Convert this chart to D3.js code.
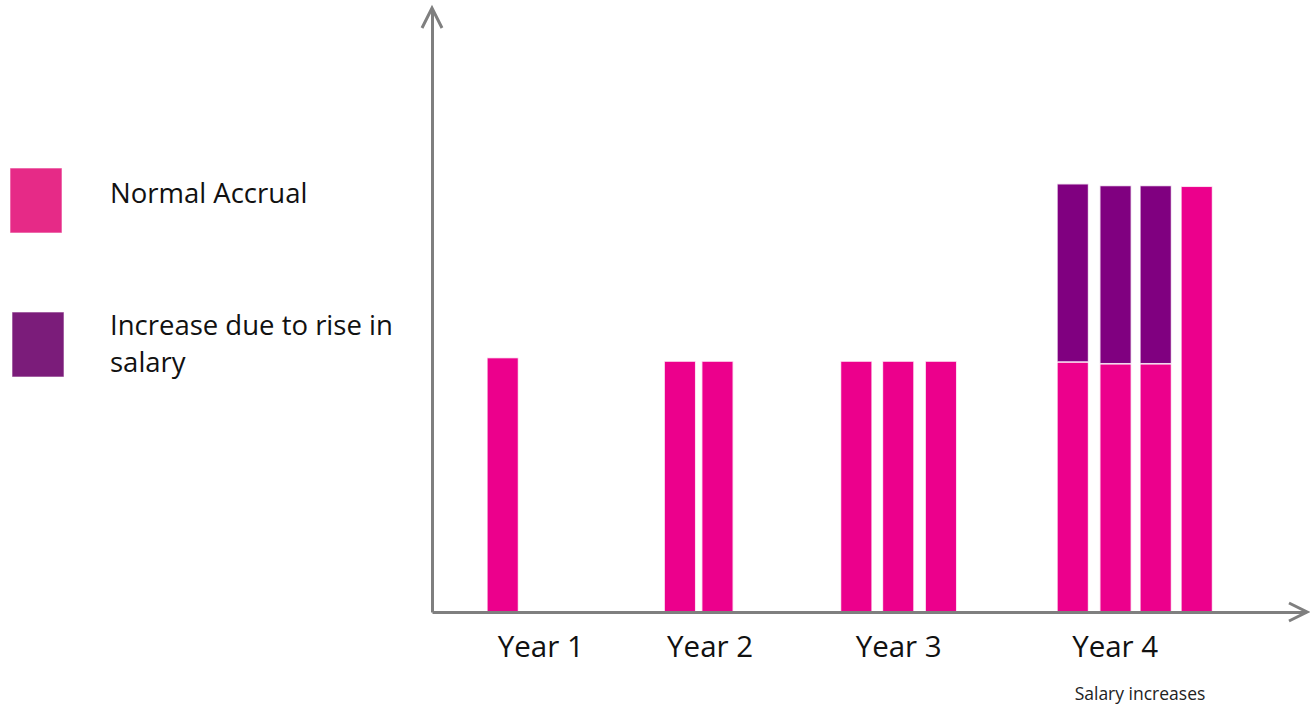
<!DOCTYPE html>
<html lang="en">
<head>
    <meta charset="UTF-8">
    <title>Accrual</title>
    <script src="https://d3js.org/d3.v7.min.js"></script>
    <style>
        body { margin: 0; background: #fff; }
        text { font-family: "Open Sans", sans-serif; }
    </style>
</head>
<body>
<script>
    // data
    var years = ["Year 1", "Year 2", "Year 3", "Year 4"];
    var yearLabelPos = [12.4, 31.8, 53.4, 78.2];
    var barPos = [6.3, 26.6, 30.9, 46.8, 51.6, 56.5, 71.6, 76.5, 81.1, 85.8];
    var normalAccrual = [1.014, 1.0, 1.0, 1.0, 1.0, 1.0, 0.997, 0.99, 0.99, 1.697];
    var salaryIncrease = [0, 0, 0, 0, 0, 0, 0.71, 0.71, 0.71, 0];
    var legendLabels = [["Normal Accrual"], ["Increase due to rise in", "salary"]];
    var note = {text: "Salary increases", pos: 81.1};

    var width = 1310, height = 706;
    var barW = 3.6;
    var barColor = {normal: "#ec008c", increase: "#800080"};
    var legendColor = ["#e62a87", "#7b1c7a"];

    var svg = d3.select("body").append("svg")
        .attr("width", width)
        .attr("height", height);

    var x = d3.scaleLinear().domain([0, 100]).range([432, 1305]);
    var y = d3.scaleLinear().domain([0, 2.4]).range([612, 10]);

    var rows = barPos.map(function (p, i) {
        return {pos: p, normal: normalAccrual[i], increase: salaryIncrease[i]};
    });
    var stacked = d3.stack().keys(["normal", "increase"])(rows);

    svg.append("g").selectAll("g")
        .data(stacked)
        .enter().append("g")
        .attr("fill", function (d) { return barColor[d.key]; })
        .selectAll("rect")
        .data(function (d) { return d.filter(function (s) { return s[1] - s[0] > 0; }); })
        .enter().append("rect")
        .attr("x", function (d) { return x(d.data.pos); })
        .attr("width", function (d) { return x(d.data.pos + barW) - x(d.data.pos); })
        .attr("y", function (d) { return y(d[1]); })
        .attr("height", function (d) { return y(d[0]) - y(d[1]); })
        .attr("stroke", "#fff")
        .attr("stroke-opacity", 0.8)
        .attr("stroke-width", 1.4);

    // axes
    var xAxis = svg.append("g")
        .attr("transform", "translate(0," + y(0) + ")")
        .call(d3.axisBottom(x)
            .tickValues(yearLabelPos)
            .tickFormat(function (d, i) { return years[i]; })
            .tickSize(0)
            .tickPadding(24));
    xAxis.selectAll("text")
        .attr("font-family", "Open Sans, sans-serif")
        .attr("font-size", 29.5)
        .attr("fill", "#111");

    var yAxis = svg.append("g")
        .attr("transform", "translate(" + x(0) + ",0)")
        .call(d3.axisLeft(y).tickValues([]).tickSize(0));

    svg.selectAll(".domain")
        .attr("stroke", "#7f7f7f")
        .attr("stroke-width", 3);

    // arrow heads
    var ax = x(0), ay = y(0), topY = y.range()[1], rightX = x.range()[1];
    svg.append("path")
        .attr("d", "M" + (ax - 10) + "," + (topY + 18) + "L" + ax + "," + (topY - 2) + "L" + (ax + 10) + "," + (topY + 18))
        .attr("fill", "none").attr("stroke", "#7f7f7f").attr("stroke-width", 3);
    svg.append("path")
        .attr("d", "M" + (rightX - 16) + "," + (ay - 9) + "L" + (rightX + 2) + "," + ay + "L" + (rightX - 16) + "," + (ay + 9))
        .attr("fill", "none").attr("stroke", "#7f7f7f").attr("stroke-width", 3);

    svg.append("text")
        .attr("x", x(note.pos))
        .attr("y", 700)
        .attr("text-anchor", "middle")
        .attr("font-size", 17.5)
        .attr("fill", "#222")
        .text(note.text);

    // legend
    var legendY = [168, 312];
    var legend = svg.append("g").selectAll("g")
        .data(legendLabels)
        .enter().append("g")
        .attr("transform", function (d, i) { return "translate(0," + legendY[i] + ")"; });
    legend.append("rect")
        .attr("x", function (d, i) { return 10 + i * 2; })
        .attr("width", 52)
        .attr("height", 65)
        .attr("fill", function (d, i) { return legendColor[i]; })
        .attr("stroke", "#fff")
        .attr("stroke-opacity", 0.6);
    legend.each(function (lines) {
        var t = d3.select(this).append("text")
            .attr("x", 110)
            .attr("font-size", 27.5)
            .attr("fill", "#111");
        lines.forEach(function (line, j) {
            t.append("tspan")
                .attr("x", 110)
                .attr("y", (lines.length === 1 ? 35 : 23) + j * 37)
                .text(line);
        });
    });
</script>
</body>
</html>
